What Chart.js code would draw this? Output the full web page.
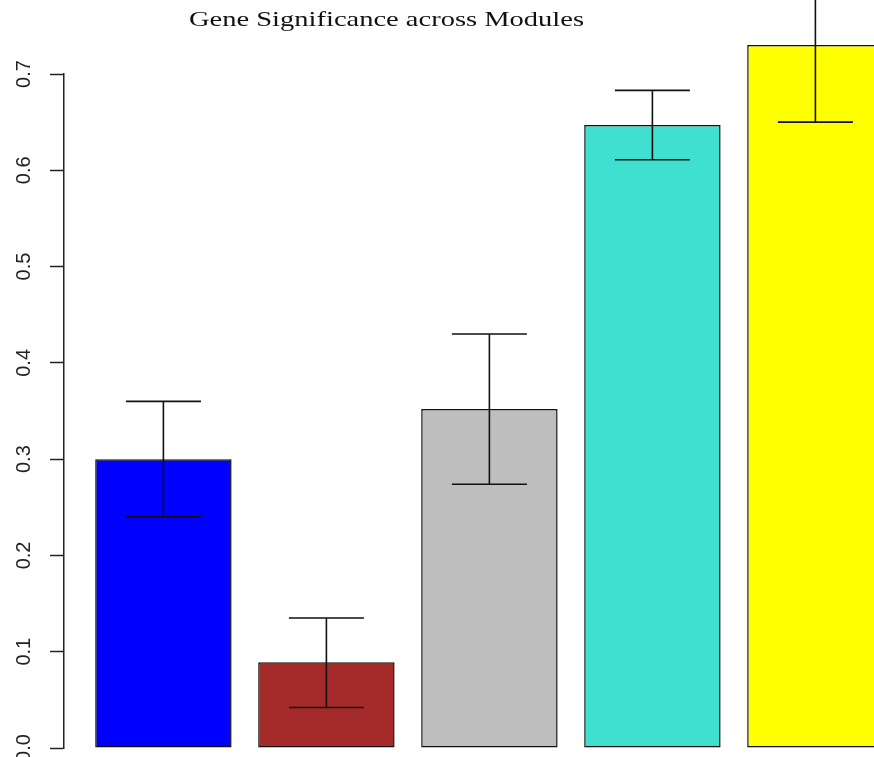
<!DOCTYPE html>
<html>
<head>
<meta charset="utf-8">
<title>Gene Significance across Modules</title>
<script src="https://cdn.jsdelivr.net/npm/chart.js@4/dist/chart.umd.min.js"></script>
<style>
  html, body { margin: 0; padding: 0; background: #ffffff; }
  #wrap { position: relative; width: 874px; height: 757px; }
</style>
</head>
<body>
<div id="wrap"><canvas id="gs"></canvas></div>
<script>
// Module-level gene significance: mean per module with its error interval
const chartTitle = 'Gene Significance across Modules';
const moduleNames = ['blue', 'brown', 'grey', 'turquoise', 'yellow'];
const meanGS = [0.300, 0.089, 0.352, 0.647, 0.730];
const upperGS = [0.360, 0.135, 0.430, 0.683, 0.810];
const lowerGS = [0.240, 0.042, 0.274, 0.611, 0.650];
const moduleColors = ['#0000FF', '#A52A2A', '#BEBEBE', '#40E0D0', '#FFFF00'];
const yTickValues = [0, 0.1, 0.2, 0.3, 0.4, 0.5, 0.6, 0.7];
const yTickLabels = ['0.0', '0.1', '0.2', '0.3', '0.4', '0.5', '0.6', '0.7'];

// Error bars: whisker from lower to upper with horizontal caps
const errorBars = {
  id: 'errorBars',
  afterDatasetsDraw(chart) {
    const ctx = chart.ctx;
    const yScale = chart.scales.y;
    const meta = chart.getDatasetMeta(0);
    ctx.save();
    ctx.strokeStyle = '#111111';
    ctx.lineWidth = 1.6;
    meta.data.forEach((bar, i) => {
      const x = bar.x;
      const yU = yScale.getPixelForValue(upperGS[i]);
      const yL = yScale.getPixelForValue(lowerGS[i]);
      const half = bar.width * 0.275;
      ctx.beginPath();
      ctx.moveTo(x, yU); ctx.lineTo(x, yL);
      ctx.moveTo(x - half, yU); ctx.lineTo(x + half, yU);
      ctx.moveTo(x - half, yL); ctx.lineTo(x + half, yL);
      ctx.stroke();
    });
    ctx.restore();
  }
};

// Serif main title, set wide above the plot
const wideTitle = {
  id: 'wideTitle',
  afterDraw(chart, args, opts) {
    const ctx = chart.ctx;
    ctx.save();
    ctx.font = opts.font;
    ctx.fillStyle = opts.color;
    ctx.textBaseline = 'alphabetic';
    ctx.textAlign = 'left';
    const w = ctx.measureText(opts.text).width;
    const sx = opts.width / w;
    ctx.translate(opts.centerX - opts.width / 2, opts.baseline);
    ctx.scale(sx, 1);
    ctx.fillText(opts.text, 0, 0);
    ctx.restore();
  }
};

const points = meanGS.map((v, i) => ({ x: i + 1, y: v }));

new Chart(document.getElementById('gs'), {
  type: 'bar',
  data: {
    labels: moduleNames,
    datasets: [{
      label: 'Gene significance',
      data: points,
      backgroundColor: moduleColors,
      borderColor: '#111111',
      borderWidth: 1.5,
      borderSkipped: false,
      barPercentage: 0.837,
      categoryPercentage: 1,
      clip: false
    }]
  },
  options: {
    responsive: true,
    maintainAspectRatio: false,
    animation: false,
    layout: { padding: { top: 74, bottom: 9, left: 0, right: 0 } },
    plugins: {
      legend: { display: false },
      tooltip: { enabled: false },
      title: { display: false },
      wideTitle: {
        text: chartTitle,
        font: '21px "Liberation Serif", "Times New Roman", serif',
        color: '#111111',
        width: 395,
        centerX: 386.5,
        baseline: 26
      }
    },
    scales: {
      x: {
        type: 'linear',
        min: 0.3902,
        max: 5.3595,
        offset: false,
        display: false,
        afterBuildTicks(scale) {
          scale.ticks = points.map(p => ({ value: p.x }));
        }
      },
      y: {
        type: 'linear',
        min: 0,
        max: 0.7,
        afterBuildTicks(scale) {
          scale.ticks = yTickValues.map(v => ({ value: v }));
        },
        afterFit(scale) {
          scale.width = 64;
          scale.paddingTop = 0;
          scale.paddingBottom = 0;
        },
        border: { display: true, color: '#222222', width: 1.5 },
        grid: {
          display: true,
          drawOnChartArea: false,
          drawTicks: true,
          tickLength: 14,
          tickColor: '#222222',
          tickWidth: 1.5
        },
        ticks: {
          minRotation: 90,
          maxRotation: 90,
          crossAlign: 'center',
          padding: 12,
          color: '#222222',
          font: { family: '"Liberation Sans", Arial, sans-serif', size: 20 },
          callback: (value, index) => yTickLabels[index]
        }
      }
    }
  },
  plugins: [errorBars, wideTitle]
});
</script>
</body>
</html>
